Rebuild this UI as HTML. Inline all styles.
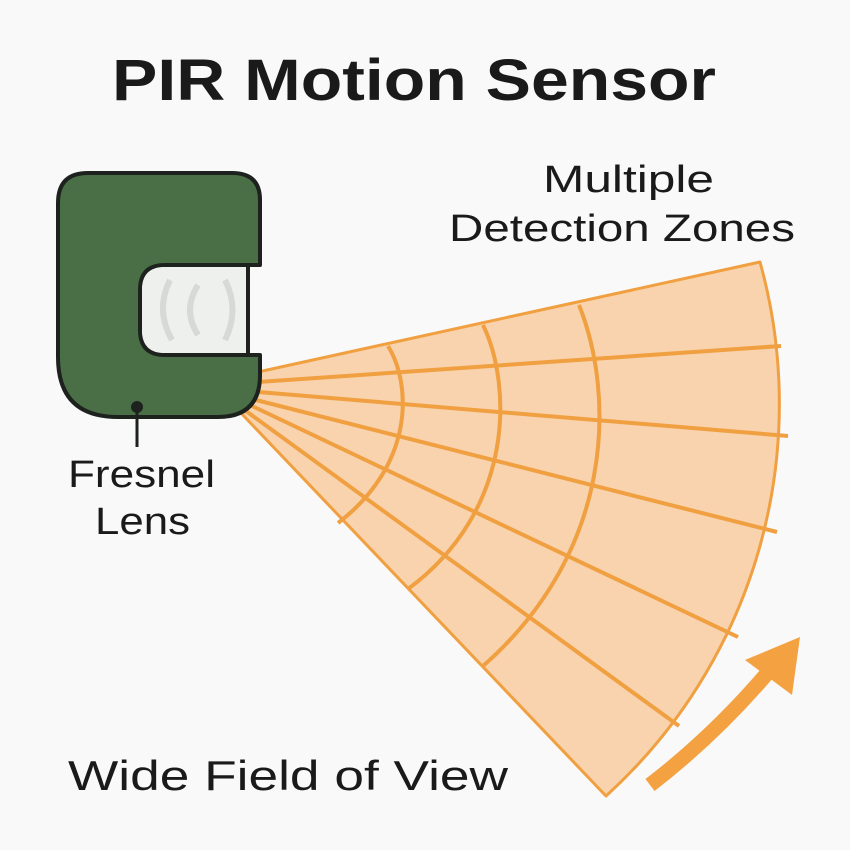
<!DOCTYPE html>
<html><head><meta charset="utf-8"><style>
html,body{margin:0;padding:0;background:#f9f9f9;}
svg{display:block}
text{font-family:"Liberation Sans",sans-serif;fill:#1a1a1a}
</style></head><body>
<svg width="850" height="850" viewBox="0 0 850 850" xmlns="http://www.w3.org/2000/svg">
<rect width="850" height="850" fill="#f9f9f9"/>
<text x="112" y="100" font-size="58" font-weight="bold" textLength="604" lengthAdjust="spacingAndGlyphs">PIR Motion Sensor</text>
<text x="543" y="192" font-size="38" textLength="171" lengthAdjust="spacingAndGlyphs">Multiple</text>
<text x="449" y="241" font-size="38" textLength="346" lengthAdjust="spacingAndGlyphs">Detection Zones</text>
<text x="68" y="487" font-size="38" textLength="147" lengthAdjust="spacingAndGlyphs">Fresnel</text>
<text x="95" y="534" font-size="38" textLength="95" lengthAdjust="spacingAndGlyphs">Lens</text>
<text x="68" y="790" font-size="42" textLength="440" lengthAdjust="spacingAndGlyphs">Wide Field of View</text>

<!-- fan -->
<path d="M258,372 L760,262 A530,530 0 0 1 606,796 L240,412 Z" fill="#f8d3ae" stroke="#f0a040" stroke-width="3" stroke-linejoin="round"/>
<g stroke="#f0a040" stroke-width="4" fill="none">
<line x1="258" y1="382" x2="781" y2="346"/>
<line x1="258" y1="392" x2="788" y2="436"/>
<line x1="256" y1="400" x2="777" y2="532"/>
<line x1="252" y1="406" x2="738" y2="637"/>
<line x1="246" y1="411" x2="679" y2="726"/>
<path d="M388,346 C412,385 414,465 338,523"/>
<path d="M483,325 C512,385 515,510 408,589"/>
<path d="M579,305 C615,395 615,550 483,666"/>
</g>

<!-- sensor -->
<path d="M88,173 H232 Q260,173 260,200 V265 H165 Q140,265 140,290 V330 Q140,355 165,355 H260 V375 Q260,417 218,417 H118 Q58,417 58,357 V203 Q58,173 88,173 Z" fill="#4a6f47" stroke="#1e221e" stroke-width="4" stroke-linejoin="round"/>
<path d="M165,267 H247 V353 H165 Q142,353 142,330 V290 Q142,267 165,267 Z" fill="#eef0ee"/>
<line x1="248" y1="265" x2="248" y2="355" stroke="#1e221e" stroke-width="4"/>
<path d="M170,280 Q155,310 172,340" stroke="#d6d9d6" stroke-width="6" fill="none"/>
<path d="M198,285 Q182,310 198,335" stroke="#d6d9d6" stroke-width="6" fill="none"/>
<path d="M225,280 Q240,310 225,340" stroke="#d6d9d6" stroke-width="6" fill="none"/>
<circle cx="137" cy="407" r="6" fill="#1e221e"/>
<line x1="137" y1="407" x2="137" y2="447" stroke="#1e221e" stroke-width="3"/>

<!-- arrow -->
<path d="M650,785 Q715,735 770,670" stroke="#f4a142" stroke-width="15" fill="none"/>
<polygon points="800,637 792,695 745,660" fill="#f4a142"/>
</svg>
</body></html>
